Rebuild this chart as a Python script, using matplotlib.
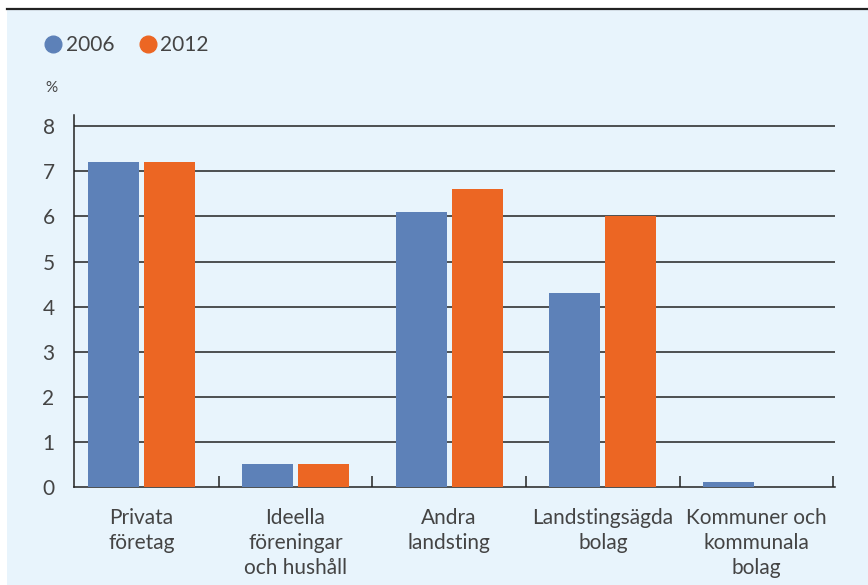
import matplotlib.pyplot as plt
from matplotlib.lines import Line2D
from matplotlib.patches import Rectangle
import numpy as np

# Data
categories = ["Privata\nföretag", "Ideella\nföreningar\noch hushåll", "Andra\nlandsting",
              "Landstingsägda\nbolag", "Kommuner och\nkommunala\nbolag"]
years = ["2006", "2012"]
values_2006 = [7.2, 0.5, 6.1, 4.3, 0.1]
values_2012 = [7.2, 0.5, 6.6, 6.0, 0.0]

blue = "#5d81b8"
orange = "#ec6623"
bg = "#e8f4fc"
txt = "#444444"

plt.rcParams['font.family'] = ['Lato', 'DejaVu Sans']

fig = plt.figure(figsize=(8.68, 5.85), dpi=100)
fig.patch.set_facecolor("white")
# light blue panel with dark top rule
fig.patches.append(Rectangle((7/868, 0), 1, 1 - 9/585, transform=fig.transFigure,
                             facecolor=bg, edgecolor="none", zorder=-5))
fig.lines.append(Line2D([7/868, 1], [1 - 9/585, 1 - 9/585], transform=fig.transFigure,
                        color="#222222", lw=1.6, zorder=-4))

ax = fig.add_axes([74/868, 98/585, (835-74)/868, (487-115)/585])
ax.set_facecolor("none")

x = np.arange(len(categories))
w = 0.332
off = 0.182
ax.bar(x - off, values_2006, w, color=blue, zorder=3)
ax.bar(x + off, values_2012, w, color=orange, zorder=3)

ax.set_xlim(-0.44, 4.51)
ax.set_ylim(0, 8.25)
ax.set_yticks(range(0, 9))
for yv in range(1, 9):
    ax.axhline(yv, color="#222222", lw=1.1, zorder=1)

ax.set_xticks(x)
ax.set_xticklabels(categories, fontsize=15, color=txt, linespacing=1.33)
ax.set_xticks(x + 0.5, minor=True)
ax.tick_params(axis='x', which='major', length=0, pad=15)
ax.tick_params(axis='x', which='minor', direction='in', length=8, width=1.1, color="#222222")
ax.tick_params(axis='y', length=0, pad=14, labelsize=15, labelcolor=txt)

for s in ["top", "right"]:
    ax.spines[s].set_visible(False)
for s in ["left", "bottom"]:
    ax.spines[s].set_color("#222222")
    ax.spines[s].set_linewidth(1.1)

fig.text(45/868, 1 - 88/585, "%", fontsize=11, color=txt, va="center")

handles = [Line2D([], [], marker='o', ls='none', color=c, markersize=12) for c in [blue, orange]]
fig.legend(handles, years, loc="center left", bbox_to_anchor=(22/868, 1 - 45/585),
           ncol=2, frameon=False, fontsize=15, labelcolor=txt,
           handletextpad=0.0, columnspacing=1.0, handlelength=1.2)

fig.savefig("out.png", dpi=100)
